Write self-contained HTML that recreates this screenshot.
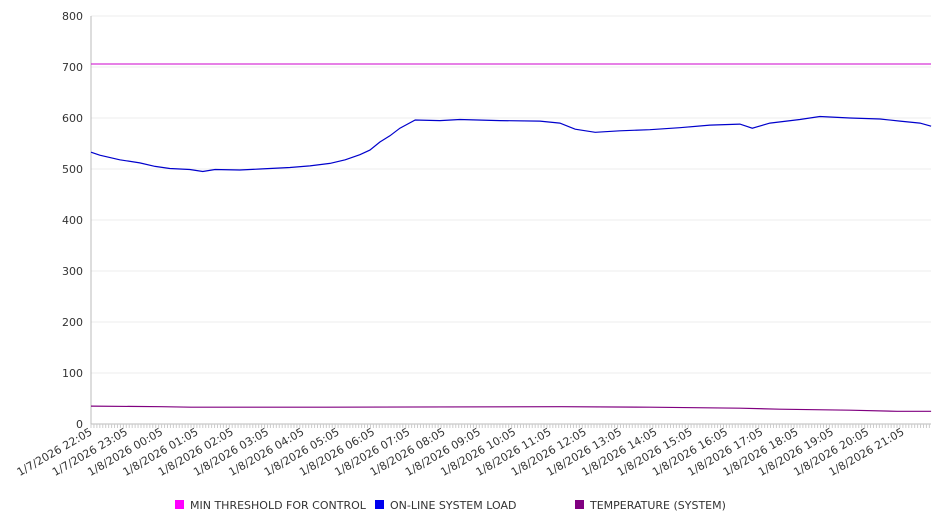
<!DOCTYPE html>
<html><head><meta charset="utf-8"><style>
body{margin:0;background:#fff;}
svg{display:block;font-family:"DejaVu Sans","Liberation Sans",sans-serif;}
</style></head><body>
<svg id="chart" width="946" height="526"></svg>
<script>
const yTicks=[0,100,200,300,400,500,600,700,800];
const hourLabels=["1/7/2026 22:05","1/7/2026 23:05","1/8/2026 00:05","1/8/2026 01:05","1/8/2026 02:05","1/8/2026 03:05","1/8/2026 04:05","1/8/2026 05:05","1/8/2026 06:05","1/8/2026 07:05","1/8/2026 08:05","1/8/2026 09:05","1/8/2026 10:05","1/8/2026 11:05","1/8/2026 12:05","1/8/2026 13:05","1/8/2026 14:05","1/8/2026 15:05","1/8/2026 16:05","1/8/2026 17:05","1/8/2026 18:05","1/8/2026 19:05","1/8/2026 20:05","1/8/2026 21:05"];
const thresholdValue=706;
const loadMinutes=[0,15,49,83,109,134,168,190,211,253,287,338,372,406,432,457,474,491,508,525,551,593,627,695,763,797,823,857,899,950,1001,1052,1103,1124,1154,1205,1239,1290,1341,1375,1409,1428];
const loadValues=[533,527,518,512,505,501,499,495,499,498,500,503,506,511,518,528,537,553,565,580,596,595,597,595,594,590,578,572,575,577,581,586,588,580,590,597,603,600,598,594,590,584];
const tempMinutes=[0,120,170,400,800,950,1103,1170,1290,1370,1428];
const tempValues=[35,34,33,33,34,33,31,29,27,25,25];
const NS="http://www.w3.org/2000/svg";
const svg=document.getElementById('chart');
const X0=91,X1=931,Y0=424,Y1=16,MAXMIN=1428,PXH=35.3;
const xs=m=>X0+m/60*PXH;
const ys=v=>Y0-(v/800)*(Y0-Y1);
function mk(t,a){const e=document.createElementNS(NS,t);for(const k in a)e.setAttribute(k,a[k]);svg.appendChild(e);return e;}
yTicks.forEach(v=>{
  const g=mk('line',{x1:X0,x2:X1,y1:ys(v),y2:ys(v),stroke:v===0?'#bbb':'#ececec','stroke-width':1});
  
  
  const t=mk('text',{x:X0-8,y:ys(v)+4,'text-anchor':'end','font-size':11,fill:'#333'});
  t.textContent=v;
  
  
});
const ax=mk('line',{x1:X0,x2:X0,y1:Y1,y2:Y0,stroke:'#bbb'});


for(let m=0;m<=MAXMIN;m+=5){
  const tk=mk('line',{x1:xs(m),x2:xs(m),y1:Y0,y2:Y0+4,stroke:'#ccc'});
  
  
}
hourLabels.forEach((l,i)=>{
  const x=xs(i*60)+2,y=Y0+10;
  const t=mk('text',{x:x,y:y,'text-anchor':'end','font-size':11,fill:'#333',transform:`rotate(-30 ${x} ${y})`});
  t.textContent=l;
  
  
});
const th=mk('line',{x1:X0,x2:X1,y1:ys(thresholdValue),y2:ys(thresholdValue),stroke:'#cc00cc','stroke-width':1});


function path(ms,vs,col,name){
  const d=ms.map((m,i)=>(i?'L':'M')+xs(m).toFixed(1)+','+ys(vs[i]).toFixed(1)).join(' ');
  const p=mk('path',{d:d,fill:'none',stroke:col,'stroke-width':1.2});
  
  
}
path(loadMinutes,loadValues,'#0000cc','system-load-line');
path(tempMinutes,tempValues,'#800080','temperature-line');
const legend=[["MIN THRESHOLD FOR CONTROL","#ff00ff",175],["ON-LINE SYSTEM LOAD","#0000ee",375],["TEMPERATURE (SYSTEM)","#800080",575]];
legend.forEach(([n,c,x])=>{
  const r=mk('rect',{x:x,y:500,width:9,height:9,fill:c});
  
  
  const t=mk('text',{x:x+15,y:509,'font-size':11,fill:'#333'});
  t.textContent=n;
  
  
});
</script>
</body></html>
